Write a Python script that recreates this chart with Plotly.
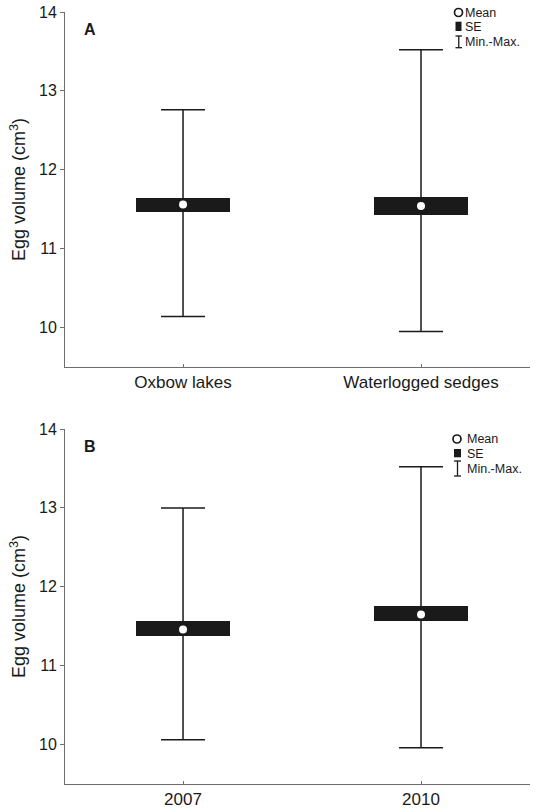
import plotly.graph_objects as go
from plotly.subplots import make_subplots

# ---- data ----
cats_a = ["Oxbow lakes", "Waterlogged sedges"]
mean_a = [11.56, 11.54]
se_low_a = [11.47, 11.43]
se_high_a = [11.64, 11.65]
min_a = [10.14, 9.95]
max_a = [12.76, 13.52]

cats_b = ["2007", "2010"]
mean_b = [11.46, 11.65]
se_low_b = [11.375, 11.56]
se_high_b = [11.56, 11.76]
min_b = [10.06, 9.96]
max_b = [13.00, 13.52]

y_ticks = [10, 11, 12, 13, 14]
panel_labels = ["A", "B"]
legend_labels = ["Mean", "SE", "Min.-Max."]

# ---- layout constants ----
W, H = 537, 811
ML, MR, MT, MB = 65, 7, 12, 27
PW, PH = W - ML - MR, H - MT - MB
INK = "#1a1a1a"
AXC = "#6e6e6e"
FONT = "Liberation Sans, Arial, sans-serif"


def px(x):
    return (x - ML) / PW


def py(y):
    return 1 - (y - MT) / PH


fig = make_subplots(rows=2, cols=1)

panels = [
    (cats_a, mean_a, se_low_a, se_high_a, min_a, max_a),
    (cats_b, mean_b, se_low_b, se_high_b, min_b, max_b),
]
for i, (cats, mean, lo, hi, mn, mx) in enumerate(panels, start=1):
    fig.add_trace(go.Bar(
        x=cats, y=[h - l for h, l in zip(hi, lo)], base=lo, width=0.395,
        marker=dict(color=INK, line=dict(width=0)), showlegend=False,
        hoverinfo="skip"), row=i, col=1)
    fig.add_trace(go.Scatter(
        x=cats, y=mean, mode="markers",
        marker=dict(size=1, opacity=0),
        error_y=dict(type="data", symmetric=False,
                     array=[a - m for a, m in zip(mx, mean)],
                     arrayminus=[m - b for m, b in zip(mean, mn)],
                     width=22, thickness=1.5, color=INK),
        showlegend=False, hoverinfo="skip"), row=i, col=1)
    fig.add_trace(go.Scatter(
        x=cats, y=mean, mode="markers",
        marker=dict(size=8, color="white", line=dict(width=0)),
        showlegend=False), row=i, col=1)

doms = [[py(367), py(MT)], [py(784), py(429)]]
for i in (1, 2):
    sx = "" if i == 1 else "2"
    fig.layout["xaxis" + sx].update(
        type="category", range=[-0.496, 1.458], domain=[0, 1],
        showline=True, linecolor=AXC, linewidth=1, mirror=False,
        ticks="inside", ticklen=3, tickcolor=AXC, showgrid=False,
        zeroline=False, tickfont=dict(size=17, color=INK, family=FONT))
    fig.layout["yaxis" + sx].update(
        range=[9.5, 14], domain=doms[i - 1], tickvals=y_ticks,
        showline=True, linecolor=AXC, linewidth=1,
        ticks="outside", ticklen=4, tickcolor=AXC, showgrid=False,
        zeroline=False, tickfont=dict(size=16, color=INK, family=FONT),
        title=dict(text="Egg volume (cm<sup>3</sup>)", standoff=8,
                   font=dict(size=18, color=INK, family=FONT)))

shapes = []
annotations = []

# panel letters
for lab, yy in zip(panel_labels, [30, 446]):
    annotations.append(dict(
        x=px(82), y=py(yy), xref="paper", yref="paper", text="<b>%s</b>" % lab,
        showarrow=False, xanchor="left", yanchor="middle",
        font=dict(size=16, color=INK, family=FONT)))

# custom legends (pixel positions)
legs = [
    dict(cx=458.5, cy=12.5, sq=(455.5, 461.5, 21.7, 31), ib=(455.5, 462, 36, 47.7),
         tx=464, ty=[12.5, 27, 41.8]),
    dict(cx=457, cy=439, sq=(454, 461, 449, 457.3), ib=(454, 461, 461, 476),
         tx=466, ty=[439, 453.5, 468.5]),
]
for lg in legs:
    r = 4
    shapes.append(dict(type="circle", xref="paper", yref="paper",
                       x0=px(lg["cx"] - r), x1=px(lg["cx"] + r),
                       y0=py(lg["cy"] + r), y1=py(lg["cy"] - r),
                       line=dict(color=INK, width=1.7), fillcolor="white"))
    x0, x1, y0, y1 = lg["sq"]
    shapes.append(dict(type="rect", xref="paper", yref="paper",
                       x0=px(x0), x1=px(x1), y0=py(y1), y1=py(y0),
                       line=dict(width=0), fillcolor=INK))
    x0, x1, y0, y1 = lg["ib"]
    xc = (x0 + x1) / 2
    for seg in [(xc, y0, xc, y1), (x0, y0, x1, y0), (x0, y1, x1, y1)]:
        shapes.append(dict(type="line", xref="paper", yref="paper",
                           x0=px(seg[0]), y0=py(seg[1]), x1=px(seg[2]), y1=py(seg[3]),
                           line=dict(color=INK, width=1.3)))
    for t, yy in zip(legend_labels, lg["ty"]):
        annotations.append(dict(
            x=px(lg["tx"]), y=py(yy), xref="paper", yref="paper", text=t,
            showarrow=False, xanchor="left", yanchor="middle", height=12,
            borderpad=0, font=dict(size=12.5, color=INK, family=FONT)))

fig.update_layout(
    width=W, height=H, margin=dict(l=ML, r=MR, t=MT, b=MB, autoexpand=False),
    paper_bgcolor="white", plot_bgcolor="white", bargap=0,
    shapes=shapes, annotations=annotations, showlegend=False,
    font=dict(family=FONT, color=INK))

fig.write_html("out.html", config={"displayModeBar": False})
